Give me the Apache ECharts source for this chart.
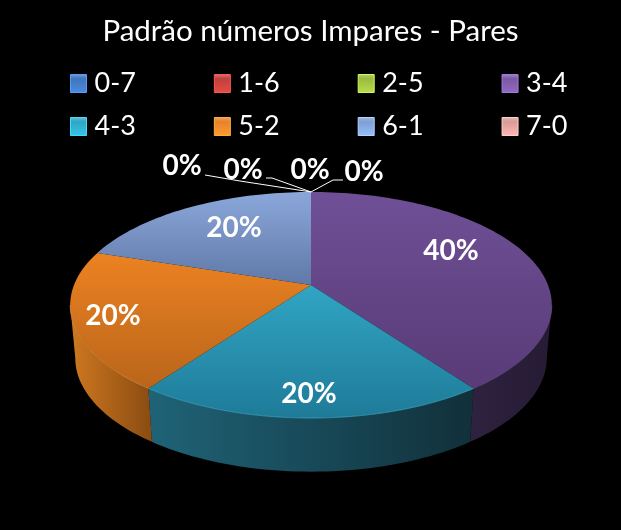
<!DOCTYPE html>
<html>
<head>
<meta charset="utf-8">
<style>html,body{margin:0;padding:0;background:#000}#c{width:621px;height:530px}</style>
<script src="https://cdn.jsdelivr.net/npm/echarts@6/dist/echarts.min.js"></script>
</head>
<body>
<div id="c"></div>
<script>
var categories = ['0-7', '1-6', '2-5', '3-4', '4-3', '5-2', '6-1', '7-0'];
var values = [0, 0, 0, 40, 20, 20, 20, 0];
var chartTitle = 'Padrão números Impares - Pares';

var swatchColors = ['#3f75bb', '#c0403c', '#9aba3f', '#7a59a3', '#2fa5c3', '#e8822a', '#7f9fd3', '#d89a98'];
var topColors = {
  3: ['#6f5097', '#583b77'], 4: ['#31a5c4', '#1e7b98'],
  5: ['#ec8222', '#b9651a'], 6: ['#8ba6d9', '#5f7aa8']
};
var wallColors = {
  3: ['#2e2240', '#261b34'], 4: ['#1f6377', '#11303a'],
  5: ['#cf7820', '#8a4c12'], 6: ['#5f7aa8', '#3f5272']
};
var rimColors = { 3: '#6f5097', 4: '#45b4cf', 5: '#f09a45', 6: '#8ba6d9' };
// label anchor and leader-line layout, by category index
var labelBox = {
  0: { x: 182, y: 166, line: [[205, 175], [240, 181]] },
  1: { x: 243, y: 170, line: [[266, 178], [272, 178]] },
  2: { x: 310, y: 170, line: null },
  3: { x: 451, y: 251 }, 4: { x: 309, y: 394 }, 5: { x: 113, y: 316 }, 6: { x: 234, y: 228 },
  7: { x: 364, y: 172, line: [[343, 180], [333, 180]] }
};

var total = values.reduce(function (a, b) { return a + b; }, 0);
var K = 0.177;
var TOP = { cx: 311, cy: 285, a: 237, b: 109.5 };
var BOT = { cx: 311, cy: 338, a: 232, b: 110 };
var WALL_FROM = 100.2, WALL_TO = 259.8; // where the rim turns away from the viewer

function project(disc, deg) {
  var r = deg * Math.PI / 180, u = Math.sin(r), v = Math.cos(r), d = 1 + K * v;
  return [disc.cx + disc.a * u / d, disc.cy - disc.b * v / d];
}
function rim(disc, a0, a1) {
  var pts = [], n = Math.max(2, Math.ceil(Math.abs(a1 - a0) / 1.5));
  for (var i = 0; i <= n; i++) pts.push(project(disc, a0 + (a1 - a0) * i / n));
  return pts;
}
function vGrad(c) {
  return new echarts.graphic.LinearGradient(0, 0, 0, 1, [{ offset: 0, color: c[0] }, { offset: 1, color: c[1] }]);
}
function hGrad(c) {
  return new echarts.graphic.LinearGradient(0, 0, 1, 0, [{ offset: 0, color: c[0] }, { offset: 1, color: c[1] }]);
}

function renderSlice(index) {
  return function (params, api) {
    var value = api.value(0), before = 0;
    for (var i = 0; i < index; i++) before += values[i];
    var a0 = before / total * 360, a1 = (before + value) / total * 360;
    var children = [];
    if (value > 0) {
      var wa0 = Math.max(a0, WALL_FROM), wa1 = Math.min(a1, WALL_TO);
      if (wa1 > wa0) {
        children.push({
          type: 'polygon', z2: 1,
          shape: { points: rim(TOP, wa0, wa1).concat(rim(BOT, wa1, wa0)) },
          style: { fill: hGrad(wallColors[index]) }
        });
      }
      children.push({
        type: 'polygon', z2: 2,
        shape: { points: [[TOP.cx, TOP.cy]].concat(rim(TOP, a0, a1)) },
        style: { fill: vGrad(topColors[index]) }
      });
      if (wa1 > wa0) {
        children.push({
          type: 'polyline', z2: 3,
          shape: { points: rim(TOP, wa0, wa1) },
          style: { stroke: rimColors[index], lineWidth: 1, fill: 'none', opacity: 0.6 }
        });
      }
    }
    var box = labelBox[index];
    if (box.line) {
      children.push({
        type: 'polyline', z2: 4,
        shape: { points: box.line.concat([project(TOP, a0)]) },
        style: { stroke: '#ffffff', lineWidth: 1, fill: 'none' }
      });
    }
    children.push({
      type: 'text', z2: 5, x: box.x, y: box.y,
      style: {
        text: Math.round(value / total * 100) + '%',
        fill: '#ffffff', font: 'bold 28px Lato',
        textAlign: 'center', textVerticalAlign: 'middle'
      }
    });
    return { type: 'group', children: children };
  };
}

var chart = echarts.init(document.getElementById('c'), null, { renderer: 'canvas' });

function legendData(from, to) {
  return categories.slice(from, to).map(function (name) {
    var c = swatchColors[categories.indexOf(name)];
    return {
      name: name, icon: 'rect',
      itemStyle: {
        color: new echarts.graphic.LinearGradient(0, 0, 0, 1, [
          { offset: 0, color: echarts.color.lift(c, 0.3) },
          { offset: 0.25, color: c },
          { offset: 1, color: echarts.color.lift(c, -0.2) }
        ]),
        borderColor: echarts.color.lift(c, -0.35), borderWidth: 1
      }
    };
  });
}
function legend(from, to, top) {
  return {
    data: legendData(from, to), left: 70, top: top, orient: 'horizontal', padding: 0,
    itemWidth: 16, itemHeight: 18, itemGap: 78,
    selectedMode: false,
    textStyle: { color: '#ffffff', fontFamily: 'Lato', fontSize: 27, padding: [0, 0, 0, 3] }
  };
}

chart.setOption({
  animation: false,
  backgroundColor: '#000000',
  title: {
    text: chartTitle, left: 'center', top: 11,
    textStyle: { color: '#ffffff', fontFamily: 'Lato', fontSize: 29.5, fontWeight: 'normal' }
  },
  legend: [legend(0, 4, 70), legend(4, 8, 113)],
  series: categories.map(function (name, i) {
    return {
      type: 'custom', name: name, coordinateSystem: 'none',
      silent: true, clip: false,
      itemStyle: { color: swatchColors[i] },
      data: [[values[i]]],
      renderItem: renderSlice(i)
    };
  })
});
</script>
</body>
</html>
